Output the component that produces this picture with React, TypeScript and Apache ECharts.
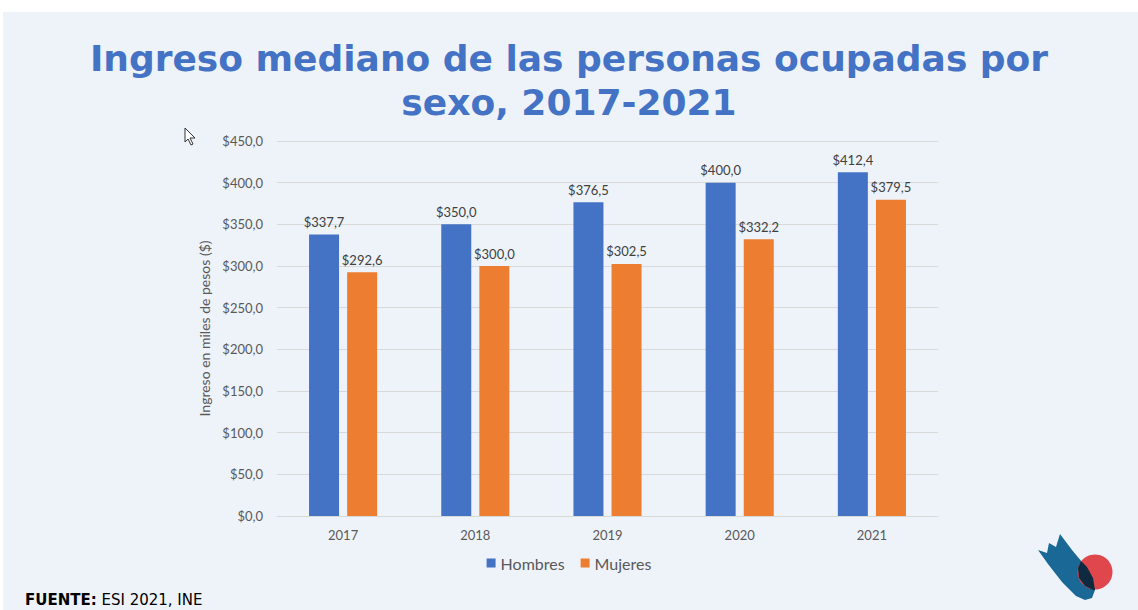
import React, { useEffect, useRef } from "react";
import * as echarts from "echarts";

const categories = ["2017", "2018", "2019", "2020", "2021"];
const hombres = [337.7, 350.0, 376.5, 400.0, 412.4];
const mujeres = [292.6, 300.0, 302.5, 332.2, 379.5];
const seriesNames = ["Hombres", "Mujeres"];
const titleLines = ["Ingreso mediano de las personas ocupadas por", "sexo, 2017-2021"];
const yAxisName = "Ingreso en miles de pesos ($)";

const fmt = (v: number) => "$" + v.toFixed(1).replace(".", ",");

export default function App() {
  const ref = useRef<HTMLDivElement>(null);
  useEffect(() => {
    document.body.style.margin = "0";
    const chart = echarts.init(ref.current!, null, { renderer: "svg" });
    const font = "Lato, 'Open Sans', sans-serif";
    chart.setOption({
      animation: false,
      backgroundColor: "#ffffff",
      textStyle: { fontFamily: font },
      title: {
        text: titleLines.join("\n"),
        left: "center",
        top: 31,
        textStyle: {
          fontFamily: "'DejaVu Sans', Verdana, sans-serif",
          fontWeight: "bold",
          fontSize: 36,
          lineHeight: 44,
          color: "#4472C4",
        },
      },
      grid: { left: 277, right: 200, top: 141, bottom: 94 },
      legend: {
        data: seriesNames,
        left: "center",
        top: 550,
        itemWidth: 9,
        itemHeight: 9,
        itemGap: 16,
        icon: "rect",
        textStyle: { fontFamily: font, fontSize: 16, color: "#595959" },
      },
      xAxis: {
        type: "category",
        data: categories,
        axisLine: { lineStyle: { color: "#D9D9D9" } },
        axisTick: { show: false },
        axisLabel: { color: "#595959", fontSize: 13, margin: 12, fontFamily: font },
      },
      yAxis: {
        type: "value",
        min: 0,
        max: 450,
        interval: 50,
        name: yAxisName,
        nameLocation: "middle",
        nameGap: 64,
        nameTextStyle: { color: "#595959", fontSize: 14, fontFamily: font },
        axisLine: { show: false },
        axisTick: { show: false },
        axisLabel: { color: "#595959", fontSize: 13, margin: 14, formatter: (v: number) => fmt(v), fontFamily: font },
        splitLine: { lineStyle: { color: "#D9D9D9" } },
      },
      series: [
        {
          name: seriesNames[0],
          type: "bar",
          data: hombres,
          barWidth: 30,
          barGap: "27%",
          itemStyle: { color: "#4472C4" },
          label: { show: true, position: "top", distance: 6, color: "#404040", fontSize: 13, formatter: (p: any) => fmt(p.value), fontFamily: font },
        },
        {
          name: seriesNames[1],
          type: "bar",
          data: mujeres,
          barWidth: 30,
          barGap: "27%",
          itemStyle: { color: "#ED7D31" },
          label: { show: true, position: "top", distance: 6, color: "#404040", fontSize: 13, formatter: (p: any) => fmt(p.value), fontFamily: font },
        },
      ],
      graphic: [
        { type: "rect", z: -10, silent: true, shape: { x: 3, y: 12, width: 1135, height: 598 }, style: { fill: "#EEF3FA" } },
        {
          type: "text",
          left: 25,
          top: 592,
          style: {
            text: "{b|FUENTE:} ESI 2021, INE",
            fontFamily: "'DejaVu Sans', sans-serif",
            fontSize: 15,
            fill: "#000000",
            rich: { b: { fontWeight: "bold", fontFamily: "'DejaVu Sans', sans-serif", fontSize: 15, fill: "#000" } },
          },
        },
        {
          type: "polygon",
          shape: {
            points: [
              [1038, 550], [1047, 553], [1049, 543], [1056, 547], [1060, 534],
              [1072, 550], [1082, 562], [1093, 578], [1095, 590], [1092, 598],
              [1085, 600], [1076, 596], [1062, 582], [1048, 564],
            ],
          },
          style: { fill: "#1A6896" },
        },
        { type: "circle", shape: { cx: 1095, cy: 572, r: 17.5 }, style: { fill: "#E0474C" } },
        {
          type: "polygon",
          shape: {
            points: [[1081, 561], [1087, 567], [1093, 578], [1095, 590], [1093, 590], [1085, 586], [1079, 578], [1078, 568]],
          },
          style: { fill: "#0D2A40" },
        },
        {
          type: "polygon",
          shape: { points: [[185, 128], [185, 142], [188, 139], [191, 145], [193, 144], [190, 138], [195, 138]] },
          style: { fill: "#ffffff", stroke: "#333333", lineWidth: 1 },
        },
      ],
    });
    return () => chart.dispose();
  }, []);
  return <div ref={ref} style={{ width: 1138, height: 610 }} />;
}
